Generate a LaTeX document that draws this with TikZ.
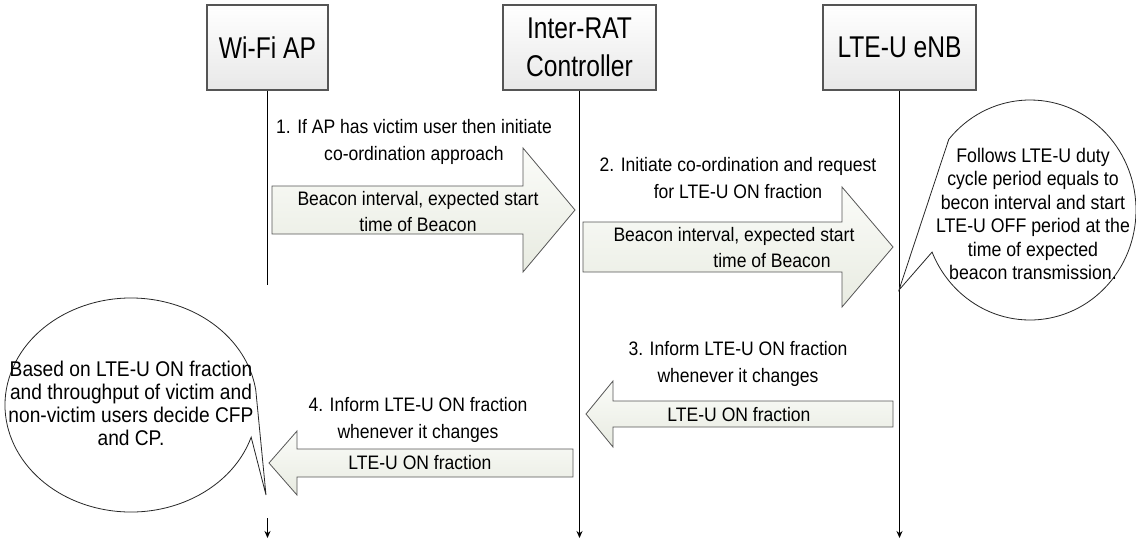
\documentclass[tikz,border=0pt]{standalone}
\usepackage{fontspec}
\setmainfont[FakeStretch=0.9]{Liberation Sans}
\newfontfamily\boxfont[FakeStretch=0.82]{Liberation Sans}
\usetikzlibrary{arrows.meta}
\definecolor{boxbot}{RGB}{232,232,232}
\definecolor{arrowtop}{RGB}{251,252,249}
\definecolor{arrowbot}{RGB}{232,235,225}
\definecolor{edgegray}{RGB}{85,85,85}
\tikzset{
  entity/.style={draw=edgegray, line width=1.2pt, top color=white, bottom color=boxbot,
    minimum height=85pt, inner sep=0pt, align=center,
    font=\boxfont\fontsize{30}{38}\selectfont},
  lifeline/.style={line width=0.9pt},
  lifeend/.style={lifeline, -{Stealth[length=7pt,width=6pt]}},
  blockarrow/.style={draw=edgegray, line width=0.8pt, top color=arrowtop, bottom color=arrowbot},
  bubble/.style={draw=black!85, line width=0.8pt, fill=white},
  msglabel/.style={align=center, font=\fontsize{19.5}{27}\selectfont},
  msgdata/.style={align=center, font=\fontsize{19.5}{26}\selectfont},
  notetext/.style={align=center, font=\fontsize{19.7}{23.5}\selectfont}
}
\begin{document}
\begin{tikzpicture}[x=1pt,y=-1pt]
    \useasboundingbox (0,0) rectangle (1136,542);
    % entities
    \node[entity, minimum width=121pt] (wifi) at (267.5,47.5) {Wi-Fi AP};
    \node[entity, minimum width=153pt] (ctrl) at (579.5,47.5) {Inter-RAT\\Controller};
    \node[entity, minimum width=153pt] (enb) at (899.5,47.5) {LTE-U eNB};
    \coordinate (wifiend) at (267.5,285);
    \coordinate (wifigo) at (267.5,518);
    \coordinate (wifistop) at (267.5,538);
    \coordinate (ctrlend) at (579.5,538);
    \coordinate (enbend) at (899.5,538);
    \coordinate (enbtip) at (899,290);
    \coordinate (wifitip) at (266,495);
    % lifelines
    \draw[lifeline] (wifi.south) -- (wifiend);
    \draw[lifeend] (wifigo) -- (wifistop);
    \draw[lifeend] (ctrl.south) -- (ctrlend);
    \draw[lifeend] (enb.south) -- (enbend);
    % block arrows: start/head base/tip/centre/shaft half/head half
    \foreach \xa/\hb/\xb/\yc/\sh/\hh in {272/523/575/210/24/62, 583/842/893/247/25/60,
        893/613/586/414/13/33, 573/297/269/463/14/32}{
        \path[blockarrow] (\xa,\yc-\sh) -- (\hb,\yc-\sh) -- (\hb,\yc-\hh) -- (\xb,\yc)
            -- (\hb,\yc+\hh) -- (\hb,\yc+\sh) -- (\xa,\yc+\sh) -- cycle;
    }
    % messages
    \node[msglabel] (lbl1) at (414,142) {1. If AP has victim user then initiate\\co-ordination approach};
    \node[msgdata] (dat1) at (418,212) {Beacon interval, expected start\\time of Beacon};
    \node[msglabel] (lbl2) at (738,178) {2. Initiate co-ordination and request\\for LTE-U ON fraction};
    \node[msgdata] (dat2) at (734,248) {Beacon interval, expected start\\\hspace*{76pt}time of Beacon};
    \node[msglabel] (lbl3) at (738,364) {3. Inform LTE-U ON fraction\\whenever it changes};
    \node[msgdata] (dat3) at (739,415) {LTE-U ON fraction};
    \node[msglabel] (lbl4) at (418,420) {4. Inform LTE-U ON fraction\\whenever it changes};
    \node[msgdata] (dat4) at (420,463) {LTE-U ON fraction};
    % notes
    \draw[bubble] (1030,210) ++(220:106 and 110)
        arc[start angle=220, end angle=517.5, x radius=106, y radius=110] -- (enbtip) -- cycle;
    \node[notetext] (enbnote) at (1033,214) {Follows LTE-U duty\\cycle period equals to\\becon interval and start\\LTE-U OFF period at the\\time of expected\\beacon transmission.};
    \draw[bubble] (131,405) ++(17.5:126 and 107)
        arc[start angle=17.5, end angle=352, x radius=126, y radius=107] -- (wifitip) -- cycle;
    \node[notetext, font=\fontsize{21.3}{23}\selectfont] (wifinote) at (131,403) {Based on LTE-U ON fraction\\and throughput of victim and\\non-victim users decide CFP\\and CP.};
\end{tikzpicture}
\end{document}
